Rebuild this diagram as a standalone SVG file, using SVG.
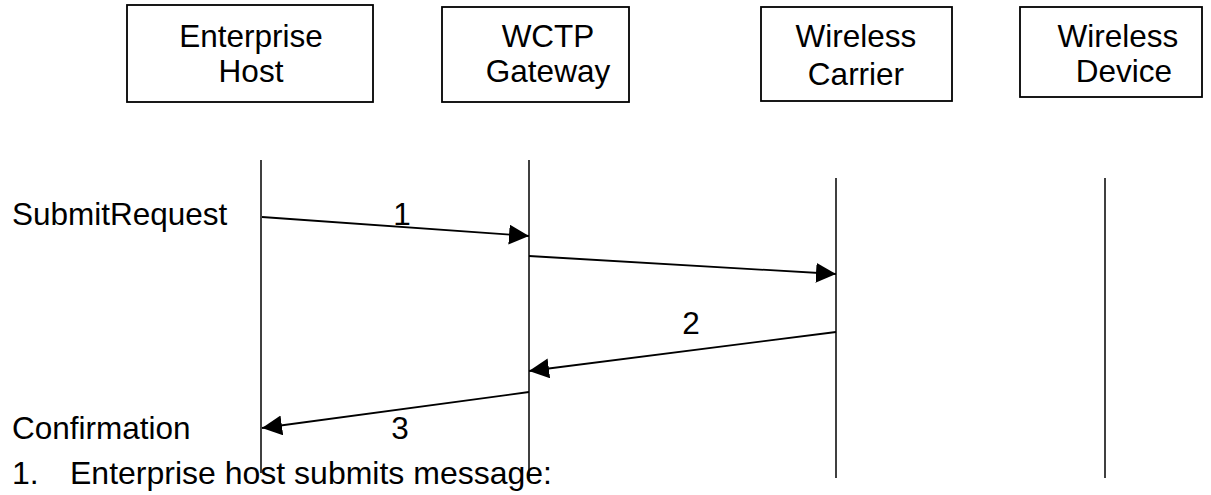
<svg xmlns="http://www.w3.org/2000/svg" width="1211" height="495" viewBox="0 0 1211 495">
<style>
text{font-family:"Liberation Sans",Arial,sans-serif;font-size:31.5px;fill:#000}
.c{text-anchor:middle}
.note{font-size:32px}
.box{fill:#fff;stroke:#000;stroke-width:1.8}
.life{stroke:#000;stroke-width:1.5;fill:none}
.msg{stroke:#000;stroke-width:1.8;fill:none;marker-end:url(#ah)}
</style>
<defs>
<marker id="ah" markerUnits="userSpaceOnUse" markerWidth="21" markerHeight="21" refX="20" refY="10" orient="auto" viewBox="0 0 21 21">
<path d="M0,0 L20,10 L0,20 z" fill="#000"/>
</marker>
</defs>
<rect width="1211" height="495" fill="#fff"/>
<g id="enterprise-host">
<rect class="box" x="127" y="5" width="246" height="97"/>
<text class="c" x="251" y="47">Enterprise</text>
<text class="c" x="251" y="82">Host</text>
<line class="life" x1="261" y1="160" x2="261" y2="473"/>
</g>
<g id="wctp-gateway">
<rect class="box" x="442" y="7" width="187" height="95"/>
<text class="c" x="548" y="47">WCTP</text>
<text class="c" x="548" y="82">Gateway</text>
<line class="life" x1="529" y1="160" x2="529" y2="478"/>
</g>
<g id="wireless-carrier">
<rect class="box" x="761" y="7" width="191" height="94"/>
<text class="c" x="856" y="47">Wireless</text>
<text class="c" x="856" y="85">Carrier</text>
<line class="life" x1="836" y1="178" x2="836" y2="478"/>
</g>
<g id="wireless-device">
<rect class="box" x="1020" y="7" width="182" height="90"/>
<text class="c" x="1118" y="47">Wireless</text>
<text class="c" x="1124" y="82">Device</text>
<line class="life" x1="1105" y1="178" x2="1105" y2="478"/>
</g>
<g id="connectors">
<line class="msg" x1="262" y1="217" x2="529" y2="236"/>
<line class="msg" x1="529" y1="256" x2="836" y2="274"/>
<line class="msg" x1="836" y1="332" x2="529" y2="371"/>
<line class="msg" x1="529" y1="392" x2="262" y2="428"/>
</g>
<g id="labels">
<text x="12" y="225">SubmitRequest</text>
<text class="c" x="402" y="225">1</text>
<text class="c" x="691" y="334">2</text>
<text x="12" y="439">Confirmation</text>
<text class="c" x="400" y="439">3</text>
<text class="note" x="12" y="484">1.</text>
<text class="note" x="70" y="484">Enterprise host submits message:</text>
</g>
</svg>
